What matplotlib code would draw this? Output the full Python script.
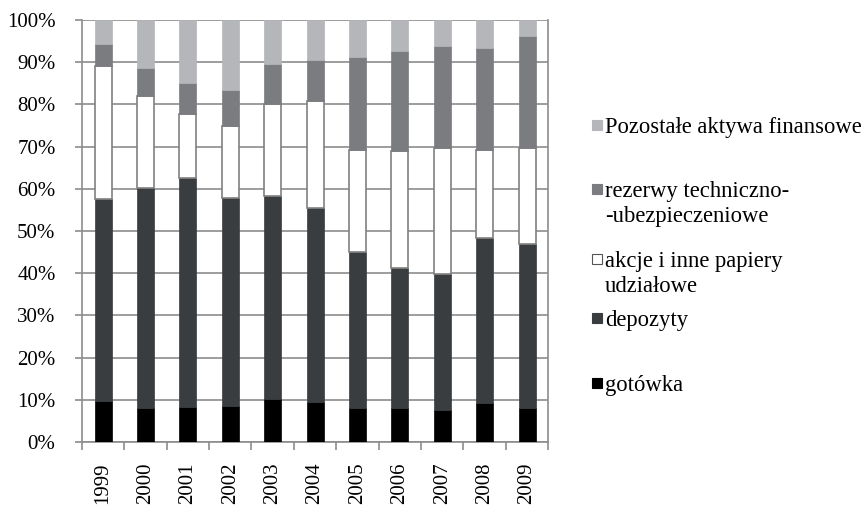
import numpy as np
import matplotlib.pyplot as plt
from matplotlib.patches import Rectangle
from matplotlib.ticker import FuncFormatter, FixedLocator

plt.rcParams['font.family'] = ['Liberation Serif', 'DejaVu Serif']

lata = ['1999', '2000', '2001', '2002', '2003', '2004', '2005', '2006', '2007', '2008', '2009']
# udzialy procentowe
gotowka = [9.8, 8.0, 8.4, 8.6, 10.1, 9.6, 8.0, 8.0, 7.7, 9.2, 8.0]
depozyty = [47.8, 52.1, 54.2, 49.3, 48.2, 45.8, 37.1, 33.3, 32.0, 39.2, 38.9]
akcje = [31.5, 22.0, 15.1, 17.1, 21.8, 25.5, 24.1, 27.7, 30.0, 20.8, 22.8]
rezerwy = [5.3, 6.6, 7.4, 8.3, 9.4, 9.6, 22.1, 23.7, 24.2, 24.2, 26.5]
pozostale = [5.6, 11.3, 14.9, 16.7, 10.5, 9.5, 8.7, 7.3, 6.1, 6.6, 3.8]

serie = [
    ('gotówka', gotowka, '#000000', '#000000'),
    ('depozyty', depozyty, '#3a3d40', '#3a3d40'),
    ('akcje i inne papiery\nudziałowe', akcje, '#ffffff', '#808080'),
    ('rezerwy techniczno-\n-ubezpieczeniowe', rezerwy, '#7b7c80', '#7b7c80'),
    ('Pozostałe aktywa finansowe', pozostale, '#b4b6b9', '#b4b6b9'),
]

fig = plt.figure(figsize=(8.62, 5.09), dpi=100)
ax = fig.add_axes([0.095, 0.1316, 0.541, 0.8291])

x = np.arange(len(lata))
dol = np.zeros(len(lata))
for nazwa, wart, kolor, kraw in serie:
    ax.bar(x, wart, bottom=dol, width=0.4, color=kolor, edgecolor=kraw,
           linewidth=1.2 if kolor == '#ffffff' else 0.5, zorder=3)
    dol += np.array(wart)

szary = '#8c8c8c'
ax.set_ylim(0, 100)
ax.set_xlim(-0.5, len(lata) - 0.5)
ax.set_yticks(np.arange(0, 101, 10))
ax.yaxis.set_major_formatter(FuncFormatter(lambda v, p: f'{int(v)}%'))
ax.grid(axis='y', color=szary, linewidth=1.2, zorder=0)
ax.set_xticks(x)
ax.set_xticklabels(lata, rotation=90, fontsize=15)
ax.xaxis.set_minor_locator(FixedLocator(np.arange(-0.5, len(lata), 1)))
ax.tick_params(axis='x', which='major', length=0, pad=15)
ax.tick_params(axis='x', which='minor', length=6, color=szary, width=1.2)
ax.tick_params(axis='y', length=5, color=szary, width=1.2, labelsize=15, pad=14)
for s in ax.spines.values():
    s.set_color(szary)
    s.set_linewidth(1.2)
ax.spines['top'].set_visible(False)

# legenda - recznie, nierowne odstepy jak w oryginale (srodek znacznika w px)
leg_y = [383, 318, 259, 189, 125]
for (nazwa, wart, kolor, kraw), yy in zip(serie, leg_y):
    fig.patches.append(Rectangle((592 / 862, 1 - (yy + 5) / 509), 10 / 862, 10 / 509,
                                 transform=fig.transFigure, facecolor=kolor,
                                 edgecolor=kraw if kolor != '#ffffff' else '#555555',
                                 linewidth=0.8))
    for i, linia in enumerate(nazwa.split('\n')):
        fig.text(605 / 862, 1 - (yy + 8 + 25 * i) / 509, linia, fontsize=16.3,
                 va='baseline', ha='left')

fig.savefig('out.png', dpi=100)
